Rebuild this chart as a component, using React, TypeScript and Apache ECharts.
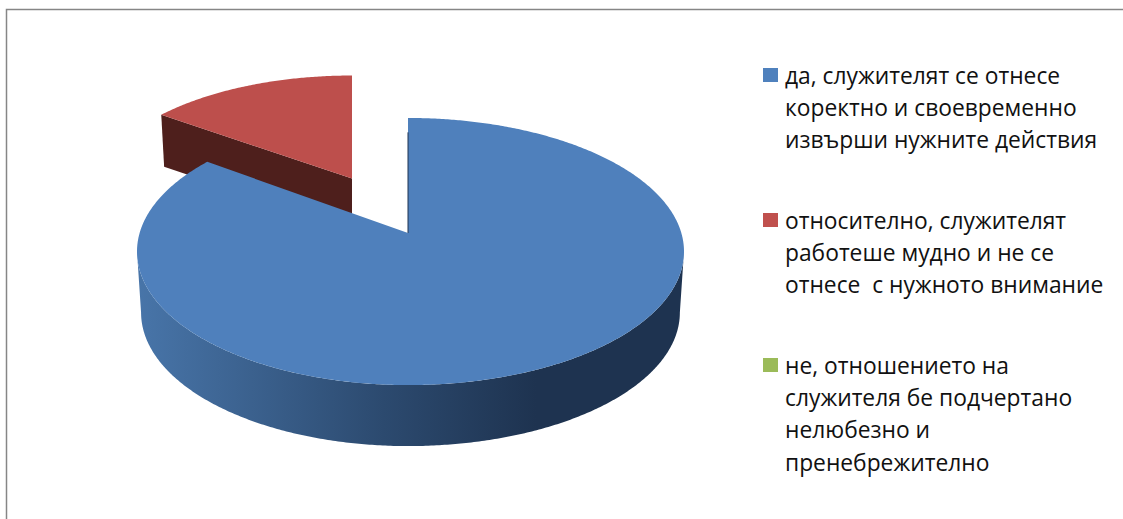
import React, { useEffect, useRef } from "react";
import * as echarts from "echarts";

const categories = [
  "да, служителят се отнесе\nкоректно и своевременно\nизвърши нужните действия",
  "относително, служителят\nработеше мудно и не се\nотнесе  с нужното внимание",
  "не, отношението на\nслужителя бе подчертано\nнелюбезно и\nпренебрежително",
];
const values = [85, 15, 0];
const exploded = [false, true, false];
const topColors = ["#4f80bc", "#bd4f4c", "#9bbb59"];
const legendColors = ["#4f81bd", "#c0504d", "#9bbb59"];
const wallColors = ["#1e3350", "#4e1f1c", "#3e4b24"];

const total = values.reduce((a, b) => a + b, 0);
const RAD = Math.PI / 180;
const APEX_X = 408;
const APEX_Y = 233;
const K = 0.1386;
const A = 131;
const S = Math.sqrt(1 - K * K);
const DEPTH = 61;
const FRONT_START = Math.acos(-K) / RAD;
const FRONT_END = 360 - FRONT_START;

// Explosion of a slice: moved and foreshortened on the screen
const EX = { dx: -56, dy: -54.5, sx: 0.95, sy: 0.895, depth: 0.85 };

function project(deg: number, r: number, bottom: boolean, ex: boolean): number[] {
  const u = Math.sin(deg * RAD) * r;
  const v = Math.cos(deg * RAD) * r;
  const den = 1 + K * v;
  const b = (u >= 0 ? 276 : 271) * S * (bottom ? 0.985 : 1);
  let x = (b * u) / den;
  let y = (-A * v) / den;
  if (ex) {
    x *= EX.sx;
    y *= EX.sy;
  }
  const drop = bottom ? DEPTH * (ex ? EX.depth : 1) : 0;
  return [APEX_X + x + (ex ? EX.dx : 0), APEX_Y + y + drop + (ex ? EX.dy : 0)];
}

function arc(from: number, to: number, bottom: boolean, ex: boolean): number[][] {
  const n = Math.max(2, Math.ceil(Math.abs(to - from) * 2));
  const pts: number[][] = [];
  for (let i = 0; i <= n; i++) pts.push(project(from + ((to - from) * i) / n, 1, bottom, ex));
  return pts;
}

function renderItem(params: any, api: any) {
  const i = params.dataIndex;
  const val = api.value(0);
  if (!val) return { type: "group", children: [] };
  let before = 0;
  for (let j = 0; j < i; j++) before += values[j];
  const start = (before / total) * 360;
  const end = ((before + val) / total) * 360;
  const ex = exploded[i];
  const z2 = ex ? 0 : 10;
  const children: any[] = [];

  const a0 = Math.max(start, FRONT_START);
  const a1 = Math.min(end, FRONT_END);
  if (a1 > a0) {
    children.push({
      type: "polygon",
      z2,
      shape: { points: [...arc(a0, a1, false, ex), ...arc(a1, a0, true, ex)] },
      style: {
        fill: new echarts.graphic.LinearGradient(1, 0, 0, 0, [
          { offset: 0, color: wallColors[i] },
          { offset: 0.27, color: wallColors[i] },
          { offset: 0.55, color: "#2c4a6f" },
          { offset: 1, color: "#4875a9" },
        ]),
      },
    });
  }
  // Straight wall along the slice's starting radius when it faces the viewer
  if (Math.cos((start - 90) * RAD) < -0.05) {
    children.push({
      type: "polygon",
      z2,
      shape: {
        points: [
          project(start, 1, false, ex),
          project(start, 0, false, ex),
          project(start, 0, true, ex),
          project(start, 1, true, ex),
        ],
      },
      style: { fill: wallColors[i] },
    });
  }
  const top = [project(start, 0, false, ex), ...arc(start, end, false, ex)];
  children.push({ type: "polygon", z2: z2 + 1, shape: { points: top }, style: { fill: topColors[i] } });
  if (start === 0 && !ex) {
    children.push({
      type: "polyline",
      z2: z2 + 2,
      shape: { points: [project(0, 0.86, false, false), project(0, 0, false, false)] },
      style: { stroke: wallColors[i], lineWidth: 1, fill: "none" },
    });
  }
  return { type: "group", children };
}

const legendTops = [59, 204, 349];
const legendMarkerTops = [68, 213, 358];

export default function App() {
  const ref = useRef<HTMLDivElement>(null);
  useEffect(() => {
    const chart = echarts.init(ref.current!, null, { renderer: "svg" });
    const elements: any[] = [
      {
        type: "polyline",
        shape: { points: [[6.5, 519], [6.5, 9.5], [1123, 9.5]] },
        style: { stroke: "#868686", lineWidth: 1.5, fill: "none" },
      },
    ];
    categories.forEach((name, i) => {
      elements.push({
        type: "rect",
        shape: { x: 763, y: legendMarkerTops[i], width: 15, height: 14 },
        style: { fill: legendColors[i] },
      });
      elements.push({
        type: "text",
        x: 785,
        y: legendTops[i],
        style: {
          text: name,
          font: '22.8px "Open Sans", sans-serif',
          lineHeight: 32.3,
          fill: "#111",
          verticalAlign: "top",
        },
      });
    });
    chart.setOption({
      animation: false,
      backgroundColor: "#fff",
      graphic: { elements },
      series: [
        {
          type: "custom",
          coordinateSystem: "none",
          renderItem,
          data: values.map((v, i) => ({ value: [v], name: categories[i] })),
          silent: true,
        },
      ],
    });
    return () => chart.dispose();
  }, []);
  return <div ref={ref} style={{ position: "fixed", left: 0, top: 0, width: 1123, height: 519 }} />;
}
